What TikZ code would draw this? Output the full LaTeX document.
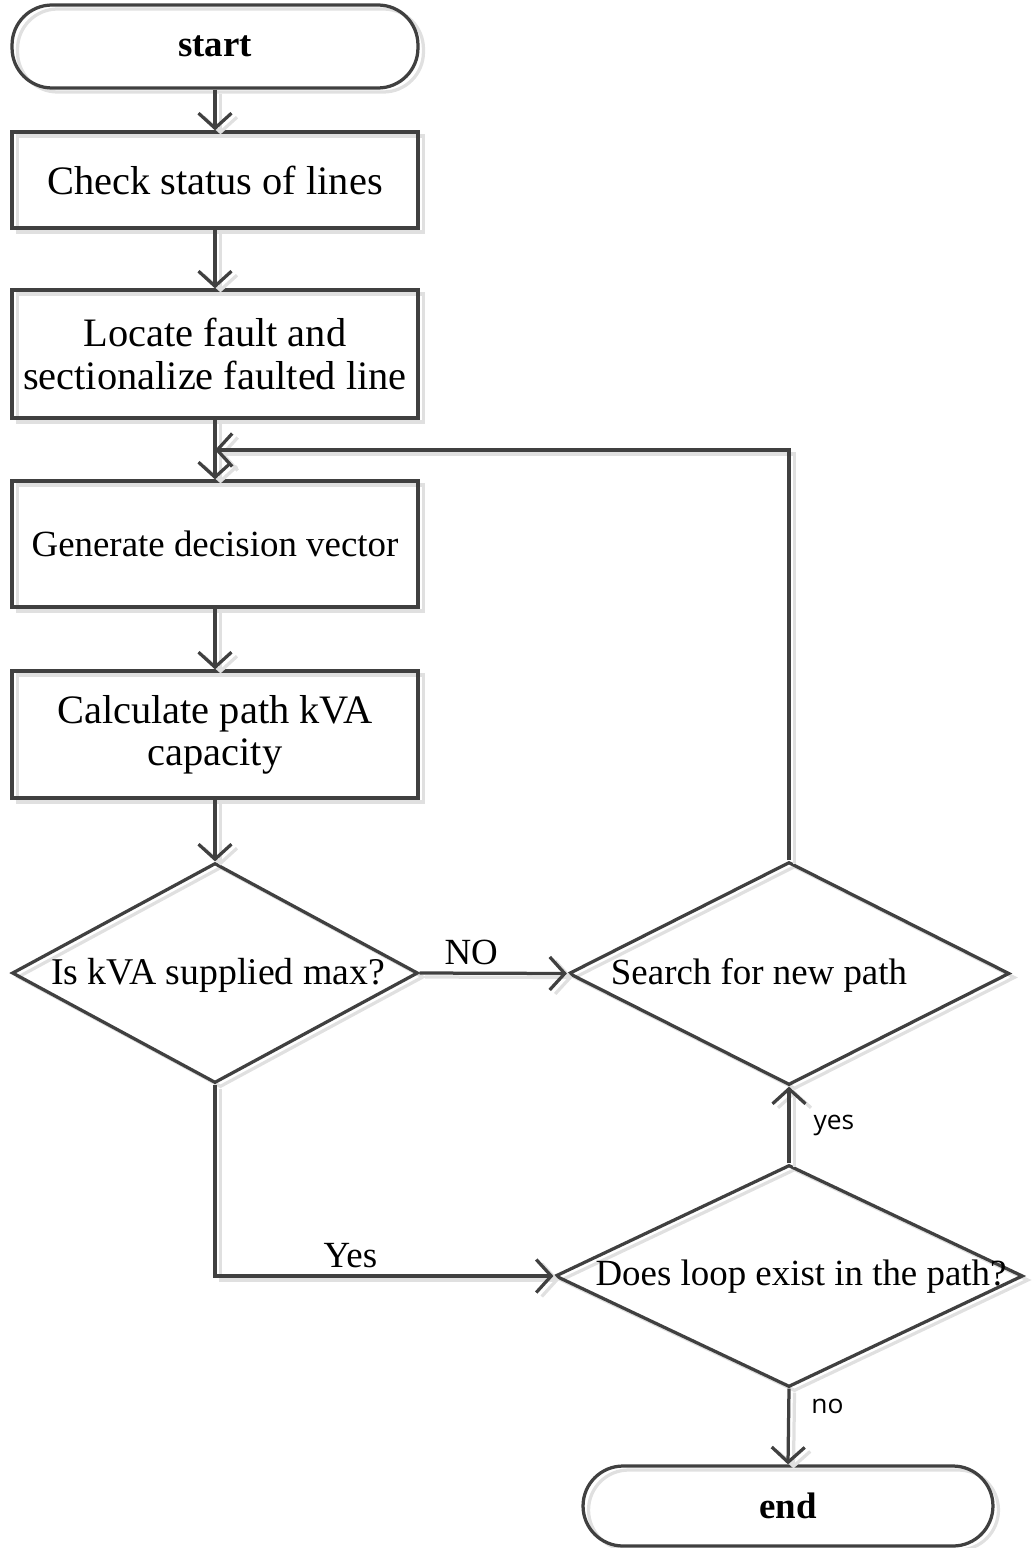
\documentclass[tikz,border=0pt]{standalone}
\usepackage{fontspec}
\setmainfont{Liberation Serif}
\newfontfamily\lblfont{Open Sans}
\usetikzlibrary{arrows.meta,shapes.geometric}
\definecolor{lineclr}{HTML}{404040}

\begin{document}
\begin{tikzpicture}[x=0.02cm,y=-0.02cm,
  ink/.style={draw=lineclr, line width=0.065cm},
  ghost/.style={preaction={draw=black!12, line width=0.065cm,
      transform canvas={shift={(0.11cm,-0.08cm)}}}},
  procbox/.style={ink, ghost, rectangle, minimum width=8.12cm, inner sep=0,
      align=center, font=\fontsize{23}{24}\selectfont},
  termbox/.style={ink, ghost, rectangle, rounded corners=0.8cm, inner sep=0,
      font=\bfseries\fontsize{21}{24}\selectfont},
  decision/.style={ink, ghost, diamond, inner sep=0},
  qtext/.style={font=\fontsize{21}{24}\selectfont, inner sep=0},
  flow/.style={ink, ghost, -{Straight Barb[length=0.3cm,width=0.66cm]}},
  tag/.style={font=\fontsize{21}{24}\selectfont, inner sep=4pt},
  sanstag/.style={font=\lblfont\fontsize{15}{18}\selectfont, inner sep=0pt}
]
\useasboundingbox (0,0) rectangle (1034,1548);

% terminals and process steps
\node[termbox, minimum width=8.12cm, minimum height=1.66cm] (start) at (215,46.5) {start};
\node[procbox, minimum height=1.92cm] (check) at (215,180) {Check status of lines};
\node[procbox, minimum height=2.56cm] (locate) at (215,354) {Locate fault and\\sectionalize faulted line};
\node[procbox, minimum height=2.52cm, font=\fontsize{21}{24}\selectfont] (gen) at (215,544) {Generate decision vector};
\node[procbox, minimum height=2.54cm] (calc) at (215,734.5) {Calculate path kVA\\capacity};

% decisions
\node[decision, minimum width=8.12cm, minimum height=4.4cm] (maxq) at (215,973) {};
\node[qtext, font=\fontsize{21.5}{24}\selectfont] (maxqt) at (218,975) {Is kVA supplied max?};
\node[decision, minimum width=8.82cm, minimum height=4.46cm] (search) at (789,973.5) {};
\node[qtext] (searcht) at (759,975) {Search for new path};
\node[decision, minimum width=9.36cm, minimum height=4.44cm] (loopq) at (789,1276) {};
\node[qtext] (loopqt) at (801,1277) {Does loop exist in the path?};

\node[termbox, minimum width=8.2cm, minimum height=1.6cm] (end) at (788,1506) {end};

% merge point of the search loop
\coordinate (merge) at (215,450);

% connectors
\draw[flow] (start) -- (check);
\draw[flow] (check) -- (locate);
\draw[flow] (locate) -- (gen);
\draw[flow] (gen) -- (calc);
\draw[flow] (calc) -- (maxq);
\draw[flow] (maxq.east) -- node[tag, above, pos=0.35] {NO} (search.west);
\draw[flow] (search.north) |- (merge);
\draw[flow] (maxq.south) |- node[tag, above, pos=0.7] {Yes} (loopq.west);
\draw[flow] (loopq.north) -- node[sanstag, right, xshift=0.46cm] {yes} (search.south);
\draw[flow] (loopq.south) -- node[sanstag, right, pos=0.23, xshift=0.42cm] {no} (end.north);
\end{tikzpicture}
\end{document}
